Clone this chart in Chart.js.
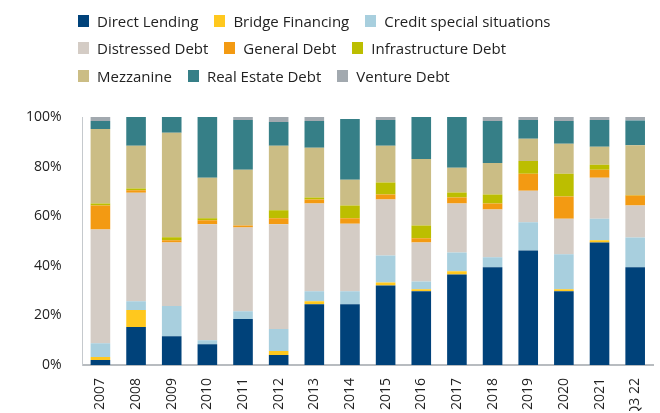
<!DOCTYPE html>
<html>
<head>
<meta charset="utf-8">
<script src="https://cdn.jsdelivr.net/npm/chart.js@4/dist/chart.umd.min.js"></script>
<style>
  html, body { margin: 0; padding: 0; background: #fff; }
  #wrap { position: relative; width: 660px; height: 413px; }
  #legend {
    position: absolute; left: 78px; top: 7px;
    font-family: "Open Sans", sans-serif; font-size: 15px; color: #222;
  }
  .lg-row { display: flex; height: 27.5px; align-items: center; }
  .lg-item { display: flex; align-items: center; margin-right: 16px; white-space: nowrap; }
  .lg-box { width: 11px; height: 12px; margin-right: 8px; }
</style>
</head>
<body>
<div id="wrap">
  <canvas id="chart" width="660" height="413"></canvas>
  <div id="legend"></div>
</div>
<script>
// -----------------------------
// Data (share of fundraising, %)
// -----------------------------
const years = ['2007', '2008', '2009', '2010', '2011', '2012', '2013', '2014',
  '2015', '2016', '2017', '2018', '2019', '2020', '2021', 'Q3 22'];

const directLending = [2.0, 15.3, 11.6, 8.4, 18.5, 4.0, 24.5, 24.5, 32.1, 29.7, 36.5, 39.4, 46.2, 29.7, 49.4, 39.4];
const bridgeFinancing = [1.2, 6.9, 0, 0, 0, 1.6, 1.2, 0, 1.2, 0.8, 1.3, 0, 0, 0.8, 0.9, 0];
const creditSpecial = [5.6, 3.5, 12.2, 1.6, 3.2, 8.9, 4.0, 5.2, 10.9, 3.2, 7.6, 4.0, 11.4, 14.2, 8.7, 12.0];
const distressedDebt = [45.8, 43.8, 25.6, 46.8, 33.7, 42.3, 35.4, 27.3, 22.5, 15.7, 19.7, 19.3, 12.7, 14.3, 16.5, 12.9];
const generalDebt = [9.7, 1.0, 0.9, 1.6, 0.8, 2.4, 1.6, 2.2, 2.1, 1.7, 2.4, 2.4, 6.8, 8.9, 3.2, 4.0];
const infrastructureDebt = [0.8, 0.7, 1.2, 0.8, 0, 3.2, 0.8, 5.1, 4.8, 5.1, 2.1, 3.6, 5.2, 9.2, 2.0, 0.2];
const mezzanine = [30.1, 17.2, 42.1, 16.3, 22.5, 26.0, 20.1, 10.4, 14.8, 26.9, 9.9, 12.8, 8.9, 12.1, 7.3, 20.1];
const realEstateDebt = [3.2, 11.6, 6.4, 24.5, 20.1, 9.6, 10.8, 24.5, 10.4, 16.9, 20.5, 16.9, 7.6, 9.2, 10.8, 10.0];
const ventureDebt = [1.6, 0, 0, 0, 1.2, 2.0, 1.6, 0, 1.2, 0, 0, 1.6, 1.2, 1.6, 1.2, 1.6];

const yTicks = [0, 20, 40, 60, 80, 100];

const series = [
  { label: 'Direct Lending', data: directLending, color: '#00427a' },
  { label: 'Bridge Financing', data: bridgeFinancing, color: '#ffc81e' },
  { label: 'Credit special situations', data: creditSpecial, color: '#a8cfde' },
  { label: 'Distressed Debt', data: distressedDebt, color: '#d4ccc5' },
  { label: 'General Debt', data: generalDebt, color: '#f39a12' },
  { label: 'Infrastructure Debt', data: infrastructureDebt, color: '#bcbe00' },
  { label: 'Mezzanine', data: mezzanine, color: '#cbbd85' },
  { label: 'Real Estate Debt', data: realEstateDebt, color: '#367f87' },
  { label: 'Venture Debt', data: ventureDebt, color: '#a2a9af' }
];

const tickFont = { family: '"Open Sans", sans-serif', size: 14 };

const chart = new Chart(document.getElementById('chart'), {
  type: 'bar',
  data: {
    labels: years,
    datasets: series.map(s => ({
      label: s.label,
      data: s.data,
      backgroundColor: s.color,
      borderWidth: 0,
      barPercentage: 0.55,
      categoryPercentage: 1
    }))
  },
  options: {
    responsive: false,
    animation: false,
    layout: { padding: { top: 117, left: 13, right: 7, bottom: 2 } },
    plugins: { legend: { display: false }, tooltip: { enabled: false } },
    scales: {
      x: {
        stacked: true,
        grid: { display: false },
        border: { display: true, color: '#b8bcc0', width: 2 },
        afterFit: scale => { scale.height = 46; },
        ticks: {
          color: '#222', font: tickFont,
          minRotation: 90, maxRotation: 90, padding: 5, autoSkip: false
        }
      },
      y: {
        stacked: true,
        min: 0,
        max: 100,
        grid: { display: false },
        border: { display: true, color: '#c5c9cd', width: 1 },
        afterBuildTicks: axis => { axis.ticks = yTicks.map(v => ({ value: v })); },
        ticks: {
          color: '#222', font: tickFont, padding: 13,
          callback: v => v + '%'
        }
      }
    }
  }
});

// -----------------------------
// Legend (3 items per row)
// -----------------------------
const legendEl = document.getElementById('legend');
const items = chart.data.datasets;
for (let i = 0; i < items.length; i += 3) {
  const row = document.createElement('div');
  row.className = 'lg-row';
  items.slice(i, i + 3).forEach(ds => {
    const item = document.createElement('div');
    item.className = 'lg-item';
    item.innerHTML = `<span class="lg-box" style="background:${ds.backgroundColor}"></span><span>${ds.label}</span>`;
    row.appendChild(item);
  });
  legendEl.appendChild(row);
}
</script>
</body>
</html>
